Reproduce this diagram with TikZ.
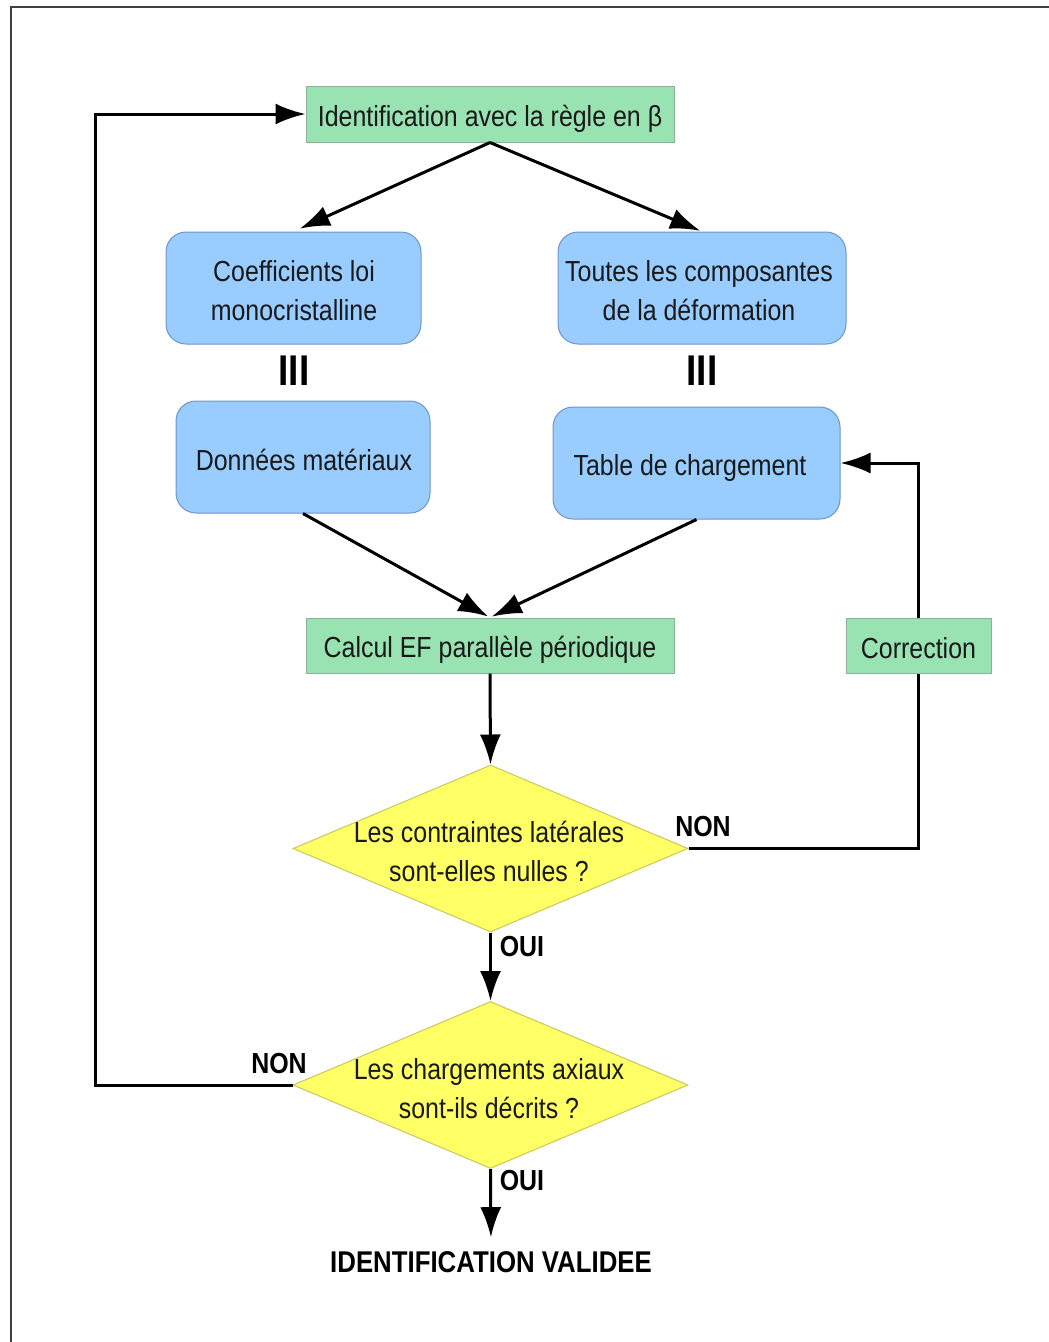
\documentclass[tikz,border=0pt]{standalone}
\usepackage{fontspec}
\setmainfont{Liberation Sans}[FakeStretch=0.86]
\usetikzlibrary{arrows.meta,shapes.geometric,calc}
\definecolor{boxgreen}{RGB}{153,226,178}
\definecolor{greenline}{RGB}{140,176,152}
\definecolor{boxblue}{RGB}{153,204,255}
\definecolor{blueline}{RGB}{112,148,200}
\definecolor{boxyellow}{RGB}{255,255,102}
\definecolor{yellowline}{RGB}{200,200,90}
\definecolor{ink}{RGB}{25,25,25}
\begin{document}
\begin{tikzpicture}[x=1pt,y=-1pt,
  txt/.style={font=\fontsize{29}{39}\selectfont, text=ink, align=center},
  greenbox/.style={draw=greenline, fill=boxgreen, line width=1pt, inner sep=0pt},
  bluebox/.style={draw=blueline, fill=boxblue, line width=1pt, rounded corners=20pt, inner sep=0pt},
  decision/.style={diamond, draw=yellowline, fill=boxyellow, line width=1pt, inner sep=0pt,
    minimum width=395pt, minimum height=167pt},
  flow/.style={draw=black, line width=3pt, -{Latex[length=30pt,width=21pt]}},
  link/.style={draw=black, line width=3pt},
  tag/.style={font=\bfseries\fontsize{29}{35}\selectfont, text=black, inner sep=0pt},
  equiv/.style={font=\bfseries\fontsize{43}{43}\selectfont, text=black, inner sep=0pt}
]
% page and frame
\useasboundingbox (0,0) rectangle (1049,1342);
\draw[line width=1.5pt, black!75] (1049,7) -- (11,7) -- (11,1342);

% boxes
\node[greenbox, minimum width=368pt, minimum height=56pt] (ident) at (490,114) {};
\node[txt] (identT) at (490,119) {Identification avec la règle en β};

\node[bluebox, minimum width=255pt, minimum height=112pt] (coef) at (293.5,288) {};
\node[txt] (coefT) at (294,291) {Coefficients loi\\monocristalline};

\node[bluebox, minimum width=288pt, minimum height=112pt] (comp) at (702,288) {};
\node[txt] (compT) at (699,291) {Toutes les composantes\\de la déformation};

\node[equiv] (eqL) at (294,371) {III};
\node[equiv] (eqR) at (702,371) {III};

\node[bluebox, minimum width=254pt, minimum height=112pt] (donn) at (303,457) {};
\node[txt] (donnT) at (304,460) {Données matériaux};

\node[bluebox, minimum width=287pt, minimum height=112pt] (table) at (696.5,463) {};
\node[txt] (tableT) at (690,468) {Table de chargement};

\node[greenbox, minimum width=368pt, minimum height=55pt] (calc) at (490,645.5) {};
\node[txt] (calcT) at (490,650) {Calcul EF parallèle périodique};

\node[greenbox, minimum width=145pt, minimum height=55pt] (corr) at (918.5,645.5) {};
\node[txt] (corrT) at (918.5,648.5) {Correction};

% decisions
\node[decision] (lat) at (490.5,848.5) {};
\node[txt] (latT) at (489,851) {Les contraintes latérales\\sont-elles nulles ?};
\node[decision] (axi) at (490.5,1085) {};
\node[txt] (axiT) at (489,1089) {Les chargements axiaux\\sont-ils décrits ?};

\node[tag, font=\bfseries\fontsize{30}{35}\selectfont] (final) at (491,1262) {IDENTIFICATION VALIDEE};

% connectors
\draw[flow, shorten >=7pt] (ident.south) -- (coef.north);
\draw[flow, shorten >=2pt] (ident.south) -- (comp.north);
\draw[flow, shorten >=2pt] (donn.south) -- (calc.north);
\draw[flow, shorten >=2pt] (table.south) -- (calc.north);
\draw[flow] (calc.south) -- (lat.north);
\draw[flow] (lat.south) -- (axi.north);
\draw[link] (lat.east) -| (corr.south);
\draw[flow] (corr.north) |- (table.east);
\coordinate (loopL) at (95,1085);
\draw[flow] (axi.west) -- (loopL) |- (ident.west);
\draw[flow, shorten >=14pt] (axi.south) -- (final.north);

% branch labels
\node[tag] (non1) at (703,827) {NON};
\node[tag] (oui1) at (522,947) {OUI};
\node[tag] (non2) at (279,1064) {NON};
\node[tag] (oui2) at (522,1181) {OUI};
\end{tikzpicture}
\end{document}
